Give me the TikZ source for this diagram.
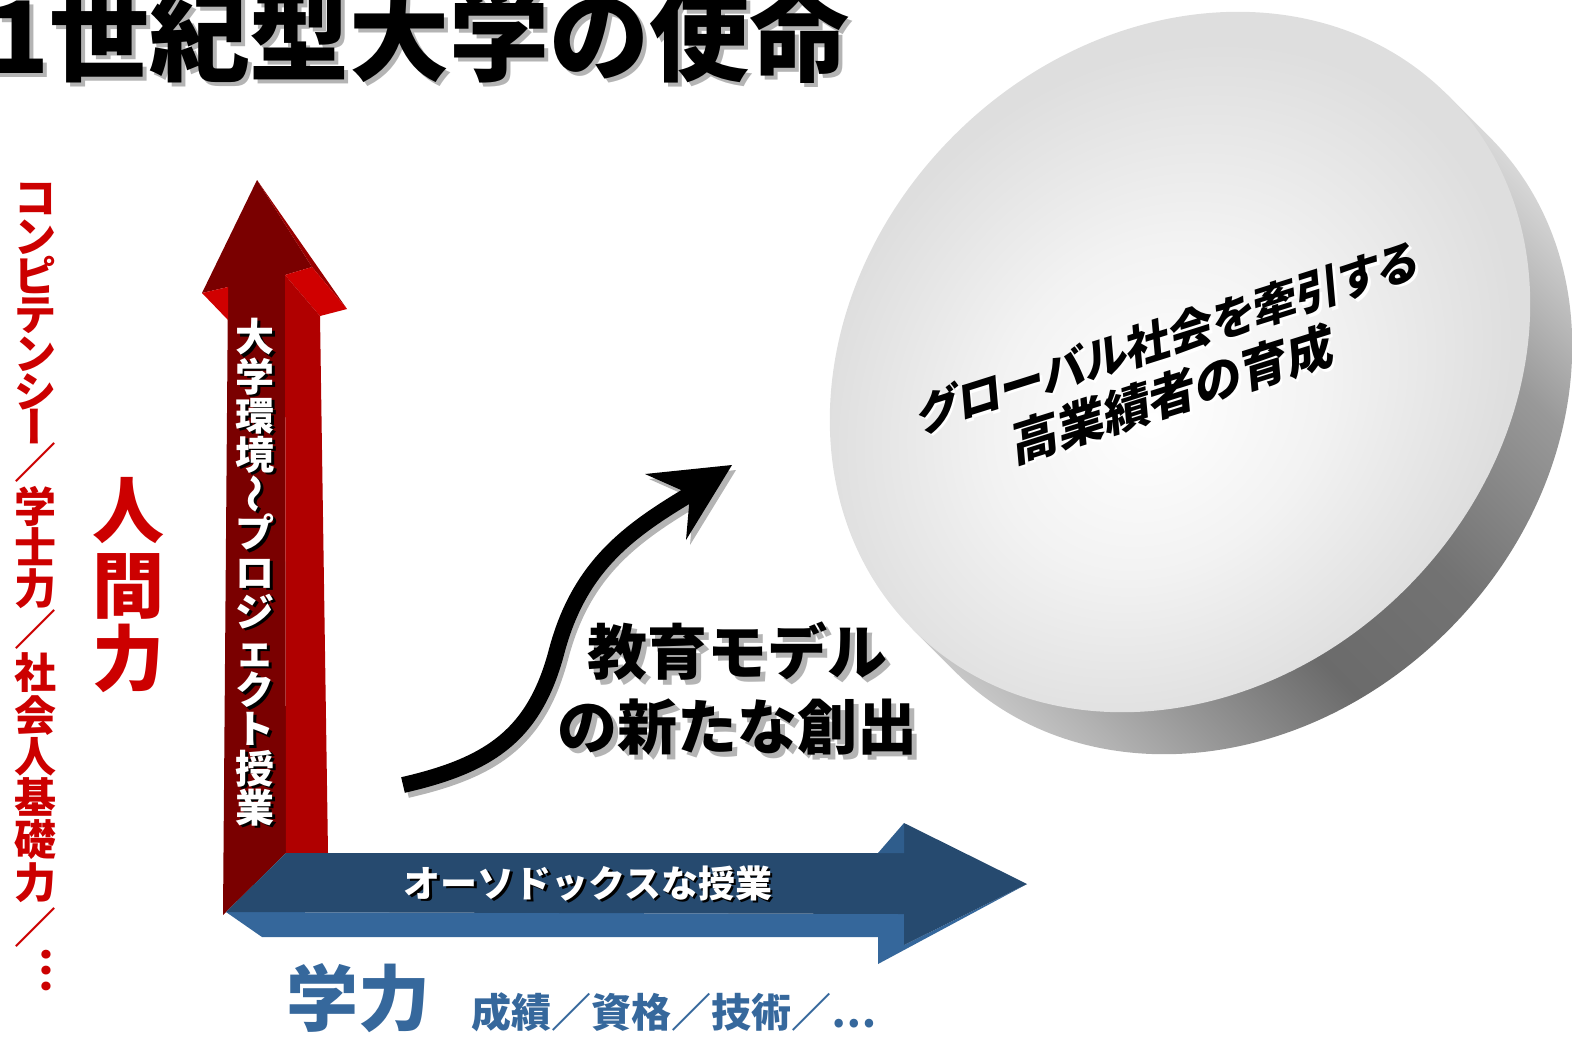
\documentclass[tikz,border=0pt]{standalone}
\usepackage{fontspec}
\setmainfont{Noto Sans CJK JP}[BoldFont={Noto Sans CJK JP Black}]
\newcommand\jpfs[1]{\fontsize{#1}{#1}\selectfont\bfseries}
\definecolor{redc}{HTML}{CC0000}
\definecolor{bluec}{HTML}{36689C}
\definecolor{rdark}{HTML}{7A0000}
\definecolor{rmid}{HTML}{B00000}
\definecolor{rbright}{HTML}{D00000}
\definecolor{rstrip}{HTML}{990000}
\definecolor{btop}{HTML}{264A6F}
\definecolor{bfront}{HTML}{35679B}
\definecolor{bbevel}{HTML}{2F5D8C}
\definecolor{shgray}{HTML}{B4B4B4}
\pgfdeclareradialshading{faceshade}{\pgfpoint{-4bp}{-1.6bp}}{color(0bp)=(white); color(12bp)=(black!5); color(25bp)=(black!13); color(50bp)=(black!13)}
\pgfdeclarehorizontalshading{sideshade}{100bp}{color(0bp)=(black!22); color(25bp)=(black!22); color(33.5bp)=(black!40); color(42.6bp)=(black!58); color(52.6bp)=(black!55); color(64.7bp)=(black!40); color(75bp)=(black!15); color(100bp)=(black!15)}
\tikzset{
  em/.style={inner sep=0pt, text height=#1*0.88pt, text depth=#1*0.12pt, font=\jpfs{#1}},
  lcol/.style={em=42, text=redc},
  arrtxt/.style={em=39, text=white},
  arrsh/.style={em=39, text=black},
  disktxt/.style={em=48, align=center, rotate=17.5, xslant=0.22, font=\fontsize{48}{57}\selectfont\bfseries},
}
\begin{document}
\begin{tikzpicture}[x=1pt,y=-1pt]
\useasboundingbox (0,0) rectangle (1573,1037);
\clip (0,0) rectangle (1573,1037);

% ---------- disk ----------
\begin{scope}[transform canvas={shift={(1180,362)}, rotate=45}]
  \shade[shading=sideshade] (-378,0) -- (378,0) -- (378,59.4) arc[start angle=0, end angle=180, x radius=378, y radius=320] -- cycle;
  \shade[shading=faceshade] (0,0) ellipse[x radius=378, y radius=320];
\end{scope}

\node[disktxt, text=white] (diskS) at (1175.5,396.5)
  {{\addfontfeature{RawFeature=+palt}\fontsize{45}{57}\selectfont グローバル社会を牽引する}\\高業績者の育成};
\node[disktxt, text=black] (disk) at (1173,394)
  {{\addfontfeature{RawFeature=+palt}\fontsize{45}{57}\selectfont グローバル社会を牽引する}\\高業績者の育成};

% ---------- title ----------
\node[inner sep=0pt, anchor=base east, font=\jpfs{100}, text=shgray] (titleS) at (854,77) {21世紀型大学の使命};
\node[inner sep=0pt, anchor=base east, font=\jpfs{100}, text=black] (title) at (850,73) {21世紀型大学の使命};

% ---------- red arrow ----------
\fill[rdark] (257,180) -- (202,293) -- (228,287) -- (223,915) -- (286,853) -- (285,275) -- (312,267) -- cycle;
\fill[rbright] (202,293) -- (228,287) -- (228,320) -- cycle;
\fill[rstrip] (257,180) -- (312,267) -- (347,309) -- cycle;
\fill[rbright] (285,275) -- (312,267) -- (347,309) -- (320,316) -- cycle;
\fill[rmid] (285,275) -- (320,316) -- (328,853) -- (286,853) -- cycle;

% ---------- blue arrow ----------
\fill[bfront] (226,912) -- (904,914) -- (904,945) -- (1027,884) -- (878,964) -- (878,937) -- (262,937) -- cycle;
\fill[btop] (286,853) -- (904,853) -- (904,823) -- (1027,884) -- (904,945) -- (904,914) -- (226,912) -- cycle;
\fill[bbevel] (878,853) -- (904,823) -- (904,853) -- cycle;

% ---------- vertical text on red arrow ----------
\foreach \c/\a [count=\i] in {大/0,学/0,環/0,境/0,～/90,プ/0,ロ/0,ジ/0,ェ/0,ク/0,ト/0,授/0,業/0}{
  \node[arrsh, rotate=\a] (as\i) at (257.5,{339.5+39.2*(\i-1)}) {\c};
  \node[arrtxt, rotate=\a] (at\i) at (255,{337+39.2*(\i-1)}) {\c};
}

% ---------- text on blue arrow ----------
\node[em=37, text=black] (blS) at (590.5,885.5) {オーソドックスな授業};
\node[em=37, text=white] (bl) at (588,883) {オーソドックスな授業};

% ---------- left column ----------
\foreach \c/\a/\y [count=\i] in {コ/0/198,ン/0/237,ピ/0/276,テ/0/315,ン/0/354,シ/0/392,ー/90/426,／/0/463,学/0/507,士/0/548,力/0/589,／/0/630,社/0/673,会/0/716,人/0/757,基/0/798,礎/0/840,力/0/883,／/0/928,…/90/971}{
  \node[lcol, rotate=\a] (lc\i) at (35,\y) {\c};
}
\foreach \c/\y [count=\i] in {人/510,間/585,力/658}{
  \node[em=72, text=redc] (hm\i) at (128,\y) {\c};
}

% ---------- bottom labels ----------
\node[em=72, text=bluec] (gk) at (358,998) {学力};
\node[em=40, text=bluec] (gks) at (674,1012) {成績／資格／技術／…};

% ---------- curved arrow ----------
\begin{scope}[shift={(4,5)}, shgray]
  \draw[line width=16pt] (403,785) .. controls (490,765) and (535,735) .. (557,650) .. controls (580,565) and (630,530) .. (692,493);
  \fill (732,465) -- (645,474) -- (690,494) -- (686,540) -- cycle;
\end{scope}
\coordinate (cs) at (403,785);
\coordinate (ce) at (692,493);
\draw[line width=16pt] (cs) .. controls (490,765) and (535,735) .. (557,650) .. controls (580,565) and (630,530) .. (ce);
\fill (732,465) -- (645,474) -- (690,494) -- (686,540) -- cycle;

% ---------- model text ----------
\node[em=60, text=shgray] (m1S) at (742,657) {教育モデル};
\node[em=60, text=shgray] (m2S) at (742,732) {の新たな創出};
\node[em=60, text=black] (m1) at (737,652) {教育モデル};
\node[em=60, text=black] (m2) at (737,727) {の新たな創出};
\end{tikzpicture}
\end{document}
